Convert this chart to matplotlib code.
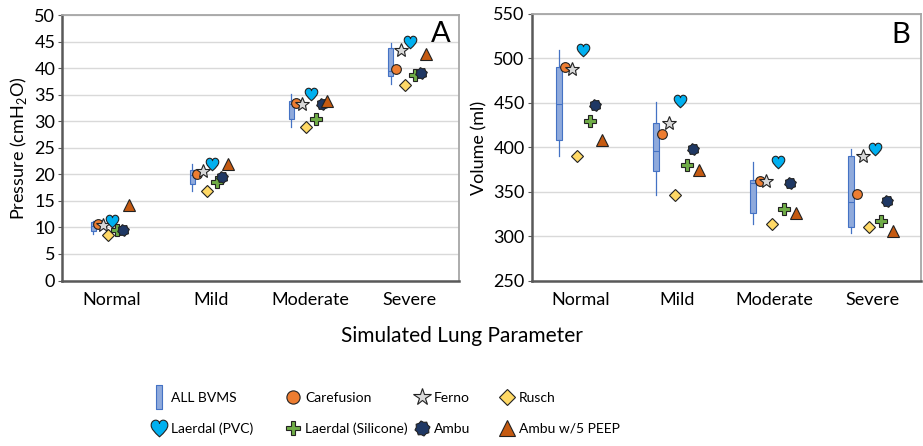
import numpy as np
import matplotlib
matplotlib.use('Agg')
import matplotlib.pyplot as plt
from matplotlib.path import Path
from matplotlib.lines import Line2D

plt.rcParams['font.family'] = 'Lato'
plt.rcParams['mathtext.fontset'] = 'custom'
plt.rcParams['mathtext.rm'] = 'Lato'

categories = ['Normal', 'Mild', 'Moderate', 'Severe']

# ALL BVMS box stats: whislo, q1, med, q3, whishi
pressure_box = [[8.8, 9.3, 10.3, 11.0, 11.3],
                [16.8, 18.2, 19.9, 20.9, 21.9],
                [28.9, 30.4, 33.3, 33.8, 35.1],
                [37.1, 38.5, 39.4, 43.7, 44.7]]
volume_box = [[390.5, 408.7, 449, 490.5, 510],
              [347, 373.6, 396, 428, 451],
              [314, 326, 360.4, 363, 383.4],
              [303.8, 311, 338.8, 390.2, 398]]

pressure_carefusion = [10.6, 20.1, 33.4, 39.8]
pressure_ferno = [10.4, 20.6, 33.2, 43.4]
pressure_rusch = [8.6, 16.8, 28.9, 36.9]
pressure_laerdal_pvc = [11.2, 21.9, 35.1, 44.9]
pressure_laerdal_sil = [9.6, 18.5, 30.5, 38.7]
pressure_ambu = [9.6, 19.5, 33.2, 39.1]
pressure_ambu_peep = [14.2, 22.0, 33.8, 42.6]

volume_carefusion = [490.5, 415, 362.3, 347.2]
volume_ferno = [488, 428, 362.3, 390.6]
volume_rusch = [390, 347, 314.4, 310.2]
volume_laerdal_pvc = [510, 452, 383.4, 398]
volume_laerdal_sil = [429.4, 380.4, 331.4, 317.8]
volume_ambu = [448, 398, 360.4, 339.6]
volume_ambu_peep = [408, 374.4, 326.4, 305.6]

labels = ['Carefusion', 'Ferno', 'Rusch', 'Laerdal (PVC)', 'Laerdal (Silicone)', 'Ambu', 'Ambu w/5 PEEP']

# custom marker shapes
heart = Path([(0, -1), (-0.6, -0.45), (-1, -0.05), (-1, 0.4),
              (-1, 0.8), (-0.7, 1.0), (-0.45, 1.0),
              (-0.2, 1.0), (0, 0.8), (0, 0.6),
              (0, 0.8), (0.2, 1.0), (0.45, 1.0),
              (0.7, 1.0), (1, 0.8), (1, 0.4),
              (1, -0.05), (0.6, -0.45), (0, -1), (0, -1)],
             [Path.MOVETO] + [Path.CURVE4] * 18 + [Path.CLOSEPOLY])
ang = np.linspace(0, 2 * np.pi, 16, endpoint=False) + np.pi / 16
rad = np.where(np.arange(16) % 2 == 0, 1.0, 0.82)
seal = Path(np.column_stack([rad * np.cos(ang), rad * np.sin(ang)]).tolist() + [(1, 0)], closed=True)
bar_mark = Path([(-0.13, -0.5), (0.13, -0.5), (0.13, 0.5), (-0.13, 0.5), (-0.13, -0.5)], closed=True)

# marker, face colour, size (plot), size (legend)
styles = [('o', '#ED7D31', 7, 9.5),
          ('*', '#D9D9D9', 10, 13),
          ('D', '#FFD966', 6, 8.5),
          (heart, '#00B0F0', 9, 12),
          ('P', '#70AD47', 8, 10.5),
          (seal, '#1F3864', 8.5, 11),
          ('^', '#C55A11', 9, 12)]

box_face = '#8FAADC'
box_edge = '#4472C4'


def draw_panel(ax, box, series, offsets, box_w):
    x = np.arange(len(categories))
    stats = [dict(whislo=b[0], q1=b[1], med=b[2], q3=b[3], whishi=b[4]) for b in box]
    ax.bxp(stats, positions=x + offsets[0], widths=box_w, patch_artist=True,
           showfliers=False, showcaps=False, manage_ticks=False,
           boxprops=dict(facecolor=box_face, edgecolor=box_edge, linewidth=0.8),
           whiskerprops=dict(color=box_edge, linewidth=0.9),
           medianprops=dict(color=box_edge, linewidth=0.8), zorder=3)
    for vals, (m, c, s, _), off in zip(series, styles, offsets[1:]):
        ax.plot(x + off, vals, linestyle='none', marker=m, markersize=s,
                markerfacecolor=c, markeredgecolor='#222222', markeredgewidth=0.8, zorder=4)
    ax.set_xlim(-0.5, len(categories) - 0.5)
    ax.set_xticks(x)
    ax.set_xticklabels(categories, fontsize=13)
    ax.tick_params(axis='x', length=0, pad=8)
    ax.tick_params(axis='y', labelsize=13, length=3, color='#595959', pad=2)
    ax.grid(axis='y', color='#D9D9D9', linewidth=1)
    ax.set_axisbelow(True)
    for side in ['left', 'bottom']:
        ax.spines[side].set_color('#595959')
        ax.spines[side].set_linewidth(1.8)
    for side in ['top', 'right']:
        ax.spines[side].set_color('#A6A6A6')
        ax.spines[side].set_linewidth(1.3)


fig = plt.figure(figsize=(9.23, 4.46), dpi=100)
ax1 = fig.add_axes([0.0675, 0.371, 0.4298, 0.5953])
ax2 = fig.add_axes([0.576, 0.370, 0.4215, 0.5987])

draw_panel(ax1, pressure_box,
           [pressure_carefusion, pressure_ferno, pressure_rusch, pressure_laerdal_pvc,
            pressure_laerdal_sil, pressure_ambu, pressure_ambu_peep],
           [-0.19, -0.14, -0.085, -0.04, 0.005, 0.055, 0.115, 0.17], 0.05)
ax1.set_ylim(0, 50)
ax1.set_yticks(np.arange(0, 51, 5))
ax1.set_ylabel('Pressure (cmH$_\\mathregular{2}$O)', fontsize=13, labelpad=4)
ax1.text(0.955, 0.93, 'A', transform=ax1.transAxes, fontsize=21, ha='center', va='center')

draw_panel(ax2, volume_box,
           [volume_carefusion, volume_ferno, volume_rusch, volume_laerdal_pvc,
            volume_laerdal_sil, volume_ambu, volume_ambu_peep],
           [-0.22, -0.155, -0.09, -0.03, 0.03, 0.095, 0.155, 0.22], 0.06)
ax2.set_ylim(250, 550)
ax2.set_yticks(np.arange(250, 551, 50))
ax2.set_ylabel('Volume (ml)', fontsize=13, labelpad=4)
ax2.text(0.95, 0.92, 'B', transform=ax2.transAxes, fontsize=21, ha='center', va='center')

fig.text(0.5, 1 - 336 / 446, 'Simulated Lung Parameter', fontsize=15, ha='center', va='center')

# legend: four columns of two entries each
handles = [Line2D([], [], linestyle='none', marker=bar_mark, markersize=17,
                  markerfacecolor=box_face, markeredgecolor=box_edge, markeredgewidth=0.8)]
handles += [Line2D([], [], linestyle='none', marker=m, markersize=ls,
                   markerfacecolor=c, markeredgecolor='#222222', markeredgewidth=0.8)
            for m, c, s, ls in styles]
all_labels = ['ALL BVMS'] + labels
order = [[0, 4], [1, 5], [2, 6], [3, 7]]
col_x = [151, 285, 414, 499]
for idx, cx in zip(order, col_x):
    fig.legend([handles[i] for i in idx], [all_labels[i] for i in idx],
               loc='center left', bbox_to_anchor=(cx / 923, 1 - 413.4 / 446),
               frameon=False, fontsize=10, handlelength=1.15, handletextpad=0.3,
               borderpad=0, borderaxespad=0, labelspacing=1.35)

fig.savefig('out.png', dpi=100)
